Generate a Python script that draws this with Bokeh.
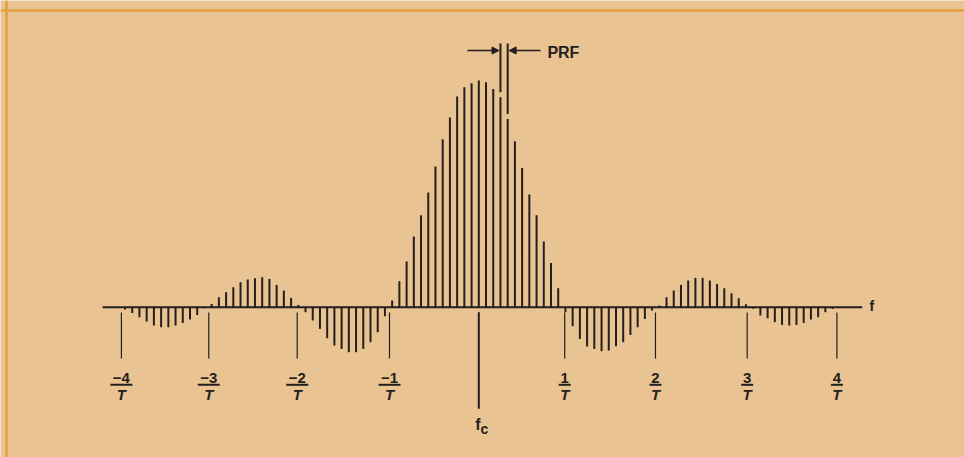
from bokeh.plotting import figure
from bokeh.models import Span, Arrow, NormalHead, ColumnDataSource, Range1d
from bokeh.embed import file_html
from bokeh.resources import INLINE
from bokeh.core.properties import value

# ---------------- data ----------------
# spectral line index in units of PRF, relative to the carrier fc
prf_index = list(range(-49, 50))
# line amplitude (arbitrary units, carrier line = 226.7)
amplitude = [
    # -49 .. -38
    -2.3, -5.7, -10, -14.3, -18.3, -20, -20, -18.3, -15.7, -12.3, -7.7, -1,
    # -37 .. -25
    3.3, 10, 15, 20, 25, 27.7, 29, 30, 28.3, 22.3, 16.7, 9.3, 2.3,
    # -24 .. -13
    -5, -13.3, -21.7, -31, -38.3, -41.7, -45, -45, -41.7, -35, -25, -9,
    # -12 .. 11 (main lobe)
    6.7, 26, 45.7, 70.7, 92, 114.7, 140.7, 168, 189.7, 210.7, 220, 224,
    226.7, 225, 218.3, 210, 188.3, 166, 139.3, 112.7, 92, 65.7, 44.3, 19,
    # 12 .. 24
    -5, -19, -31.7, -39.3, -41.7, -44, -43.3, -39, -35, -27.7, -20, -11.7, -3.3,
    # 25 .. 37
    1.7, 10, 16.7, 22.3, 26.7, 29.3, 29.3, 26.7, 23.3, 19, 14, 9, 3,
    # 38 .. 49
    -1.5, -8.3, -11, -15, -17.7, -18.3, -17.7, -15.7, -12.3, -10, -5, -1.7,
]
# positions of the n/T marks, in PRF units
tick_index = [-49.5, -37.4, -25.15, -12.37, 11.9, 24.47, 37.17, 49.6]
tick_numerators = ["\u22124", "\u22123", "\u22122", "\u22121", "1", "2", "3", "4"]
tick_denominator = "T"
center_index = 0.0
center_label_main = "f"
center_label_sub = "c"
prf_pair = [3, 4]
prf_label = "PRF"
axis_label = "f"

# ---------------- layout / style ----------------
BG = "#EAC393"
FRAME = "#E3A13C"
INK = "#231f1c"
FONT = value("Liberation Sans")
TXT_SHIFT = 4.5   # renderer places glyphs a little below the nominal baseline

W, H = 964, 457
PX_PER_K = 7.22
K0_CANVAS = 478.3
BASE_CANVAS = 306.7
xs = -K0_CANVAS / PX_PER_K

p = figure(width=W, height=H,
           x_range=Range1d(xs, xs + W / PX_PER_K),
           y_range=Range1d(BASE_CANVAS - H, BASE_CANVAS),
           x_axis_type=None, y_axis_type=None,
           output_backend="svg", toolbar_location=None, title=None,
           min_border=0, background_fill_color=BG, border_fill_color=BG,
           outline_line_color=None)

# frame lines of the page
p.add_layout(Span(location=BASE_CANVAS - 10, dimension="width",
                  line_color=FRAME, line_width=2.5))
p.add_layout(Span(location=xs + 6 / PX_PER_K, dimension="height",
                  line_color=FRAME, line_width=2.5))

# baseline (frequency axis)
base_left = tick_index[0] - 2.6
base_right = tick_index[-1] + 3.5
p.segment(x0=[base_left], y0=[0], x1=[base_right], y1=[0],
          line_color=INK, line_width=2)

# spectral lines
src = ColumnDataSource(dict(k=prf_index, a=amplitude))
p.segment(x0="k", y0=0, x1="k", y1="a", source=src,
          line_color=INK, line_width=2)

# n/T tick marks below the baseline
p.segment(x0=tick_index, y0=[-5.3] * len(tick_index),
          x1=tick_index, y1=[-51.3] * len(tick_index),
          line_color=INK, line_width=1.2)
# fc mark
p.segment(x0=[center_index], y0=[-5], x1=[center_index], y1=[-101.6],
          line_color=INK, line_width=2)

# fraction labels
p.text(x=tick_index, y=[-75.3 + TXT_SHIFT] * len(tick_index), text=tick_numerators,
       text_align="center", text_baseline="alphabetic", text_font=FONT,
       text_font_style="bold", text_font_size="15px", text_color=INK)
bar_w = [22 if t.startswith("\u2212") else 12 for t in tick_numerators]
p.rect(x=tick_index, y=[-77.6] * len(tick_index), width=bar_w,
       height=[2] * len(tick_index), width_units="screen", height_units="screen",
       fill_color=INK, line_color=None)
p.text(x=tick_index, y=[-91.8 + TXT_SHIFT] * len(tick_index),
       text=[tick_denominator] * len(tick_index),
       text_align="center", text_baseline="alphabetic", text_font=FONT,
       text_font_style="bold italic", text_font_size="15px", text_color=INK)

# fc label
p.text(x=[center_index + 0.24], y=[-121.3 + TXT_SHIFT], text=[center_label_main],
       text_align="right", text_baseline="alphabetic", text_font=FONT,
       text_font_style="bold", text_font_size="16px", text_color=INK)
p.text(x=[center_index + 0.24], y=[-126.3 + TXT_SHIFT], text=[center_label_sub],
       text_align="left", text_baseline="alphabetic", text_font=FONT,
       text_font_style="bold", text_font_size="14px", text_color=INK)

# axis label f
p.text(x=[base_right + 1.0], y=[-3.3 + TXT_SHIFT], text=[axis_label],
       text_align="left", text_baseline="alphabetic", text_font=FONT,
       text_font_style="bold", text_font_size="14px", text_color=INK)

# PRF annotation: extension lines above two adjacent lines
ext_top = 263.7
ext_bottom = [amplitude[prf_index.index(k)] + 5 for k in prf_pair]
p.segment(x0=prf_pair, y0=ext_bottom, x1=prf_pair, y1=[ext_top] * 2,
          line_color=INK, line_width=2)
arrow_y = 256.7
p.add_layout(Arrow(end=NormalHead(size=7, fill_color=INK, line_color=INK),
                   x_start=prf_pair[0] - 4.57, y_start=arrow_y,
                   x_end=prf_pair[0] - 0.2, y_end=arrow_y,
                   line_color=INK, line_width=1.5))
p.add_layout(Arrow(end=NormalHead(size=7, fill_color=INK, line_color=INK),
                   x_start=prf_pair[1] + 4.55, y_start=arrow_y,
                   x_end=prf_pair[1] + 0.2, y_end=arrow_y,
                   line_color=INK, line_width=1.5))
p.text(x=[prf_pair[1] + 5.5], y=[250 + TXT_SHIFT], text=[prf_label],
       text_align="left", text_baseline="alphabetic", text_font=FONT,
       text_font_style="bold", text_font_size="16px", text_color=INK)

open("out.html", "w").write(file_html(p, INLINE, title="PRF spectrum"))
